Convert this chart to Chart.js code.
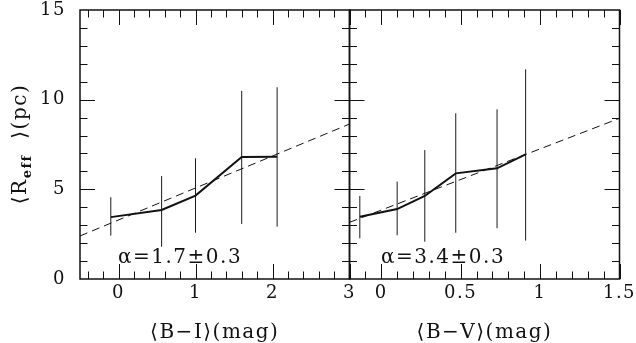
<!DOCTYPE html>
<html><head><meta charset="utf-8">
<script src="https://cdn.jsdelivr.net/npm/chart.js@4.4.1/dist/chart.umd.min.js"></script>
<style>
html,body{margin:0;padding:0;background:#fff;}
#wrap{position:relative;width:636px;height:343px;}
canvas{position:absolute;left:0;top:0;}
</style></head>
<body><div id="wrap"><canvas id="c1" width="636" height="343"></canvas><canvas id="c2" width="636" height="343"></canvas></div>
<script>
// ---- data ----
const biX  = [-0.1, 0.56, 1.0, 1.6, 2.06];
const biY  = [3.45, 3.85, 4.65, 6.8, 6.82];
const biLo = [2.42, 1.8, 2.58, 3.07, 2.92];
const biHi = [4.56, 5.74, 6.73, 10.49, 10.69];
const biFitX = [-0.5, 3.0];
const biFitY = [2.40, 8.64];

const bvX  = [-0.135, 0.1, 0.274, 0.469, 0.729, 0.909];
const bvY  = [3.47, 3.9, 4.63, 5.89, 6.17, 6.95];
const bvLo = [2.27, 2.44, 2.08, 2.58, 2.83, 2.14];
const bvHi = [4.63, 5.43, 7.19, 9.24, 9.46, 11.69];
const bvFitX = [-0.2, 1.5];
const bvFitY = [3.16, 8.96];

const biTicks = [0, 1, 2, 3];
const bvTicks = [0, 0.5, 1, 1.5];
const yTicks  = [0, 5, 10, 15];

const leftLabel  = 'α=1.7±0.3';
const rightLabel = 'α=3.4±0.3';

const SERIF = '"DejaVu Serif", "Liberation Serif", serif';
const INK = '#111';

function makeDatasets(xs, ys, lo, hi, fx, fy){
  const ds = [];
  xs.forEach((x,i)=>{
    ds.push({data:[{x:x,y:lo[i]},{x:x,y:hi[i]}], borderColor:'#1a1a1a', borderWidth:1, pointRadius:0, fill:false});
  });
  ds.push({data: xs.map((x,i)=>({x:x,y:ys[i]})), borderColor:INK, borderWidth:2, pointRadius:0, tension:0, fill:false});
  ds.push({data: fx.map((x,i)=>({x:x,y:fy[i]})), borderColor:INK, borderWidth:1, borderDash:[8,5], pointRadius:0, fill:false});
  return ds;
}

const spacing = {
  id:'spacing',
  beforeDraw(chart){ try { chart.ctx.letterSpacing = '1.5px'; } catch(e){} }
};

function frameTicks(xMin, xMax, xMinorStep, xMajorStep, label, labelX){
  return {
    id:'frameTicks',
    afterDatasetsDraw(chart){
      const {ctx, chartArea:a, scales:{x, y}} = chart;
      ctx.save();
      ctx.strokeStyle = INK;
      ctx.lineWidth = 1;
      ctx.beginPath();
      const startX = Math.ceil(xMin/xMinorStep - 1e-9);
      for(let k=startX; k*xMinorStep <= xMax + 1e-9; k++){
        const v = k*xMinorStep;
        const r = v/xMajorStep;
        const major = Math.abs(r - Math.round(r)) < 1e-6;
        const len = major ? 15 : 7.5;
        const px = Math.round(x.getPixelForValue(v)) + 0.5;
        ctx.moveTo(px, a.bottom); ctx.lineTo(px, a.bottom - len);
        ctx.moveTo(px, a.top); ctx.lineTo(px, a.top + len);
      }
      for(let v=1; v<15; v++){
        const major = v % 5 === 0;
        const len = major ? 15 : 7.5;
        const py = Math.round(y.getPixelForValue(v)) + 0.5;
        ctx.moveTo(a.left, py); ctx.lineTo(a.left + len, py);
        ctx.moveTo(a.right, py); ctx.lineTo(a.right - len, py);
      }
      ctx.stroke();
      ctx.lineWidth = 1.5;
      ctx.strokeRect(a.left, a.top, a.right - a.left, a.bottom - a.top);
      // annotation
      ctx.fillStyle = INK;
      ctx.font = '20px ' + SERIF;
      ctx.textBaseline = 'alphabetic';
      ctx.textAlign = 'left';
      ctx.fillText(label, labelX, 263);
      ctx.restore();
    }
  };
}

const yTitle = {
  id:'yTitle',
  afterDraw(chart){
    const ctx = chart.ctx;
    ctx.save();
    ctx.translate(26, 144);
    ctx.rotate(-Math.PI/2);
    ctx.fillStyle = INK;
    ctx.textBaseline = 'alphabetic';
    const big = '20px ' + SERIF, small = 'bold 13px ' + SERIF;
    const p1 = '⟨R', p2 = 'eff', p3 = '  ⟩(pc)';
    ctx.font = big; const w1 = ctx.measureText(p1).width; const w3 = ctx.measureText(p3).width;
    ctx.font = small; const w2 = ctx.measureText(p2).width;
    let x0 = -(w1 + w2 + w3)/2;
    ctx.font = big; ctx.fillText(p1, x0, 0); x0 += w1;
    ctx.font = small; ctx.fillText(p2, x0, 5); x0 += w2;
    ctx.font = big; ctx.fillText(p3, x0, 0);
    ctx.restore();
  }
};

function setTicks(vals){ return function(scale){ scale.ticks = vals.map(v=>({value:v})); }; }

function baseOptions(xmin, xmax, xticks, title, pad, showY){
  return {
    responsive:false, animation:false,
    layout:{padding:pad},
    plugins:{legend:{display:false}, tooltip:{enabled:false}},
    scales:{
      x:{type:'linear', min:xmin, max:xmax,
        afterBuildTicks:setTicks(xticks),
        afterFit(s){ s.height = 64; s.paddingLeft = 0; s.paddingRight = 0; },
        grid:{display:false, drawTicks:false}, border:{display:false},
        ticks:{color:INK, font:{family:SERIF, size:18}, padding:4, maxRotation:0, autoSkip:false,
          callback:(v)=>String(v)},
        title:{display:true, text:title, color:INK, font:{family:SERIF, size:20}, padding:{top:0,bottom:-2}}
      },
      y:{type:'linear', min:0, max:15, display:showY,
        afterBuildTicks:setTicks(yTicks),
        afterFit(s){ s.width = showY ? 80 : 0; s.paddingTop = 0; s.paddingBottom = 0; },
        grid:{display:false, drawTicks:false}, border:{display:false},
        ticks:{color:INK, font:{family:SERIF, size:18}, padding:14, autoSkip:false}
      }
    }
  };
}

new Chart(document.getElementById('c1'), {
  type:'line',
  data:{datasets: makeDatasets(biX, biY, biLo, biHi, biFitX, biFitY)},
  options: baseOptions(-0.5, 3, biTicks, '⟨B−I⟩(mag)', {top:10, right:636-349.5, left:0, bottom:0}, true),
  plugins:[spacing, frameTicks(-0.5, 3, 0.2, 1, leftLabel, 118), yTitle]
});

new Chart(document.getElementById('c2'), {
  type:'line',
  data:{datasets: makeDatasets(bvX, bvY, bvLo, bvHi, bvFitX, bvFitY)},
  options: baseOptions(-0.2, 1.5, bvTicks, '⟨B−V⟩(mag)', {top:10, right:636-619.5, left:349.5, bottom:0}, false),
  plugins:[spacing, frameTicks(-0.2, 1.5, 0.1, 0.5, rightLabel, 381)]
});
</script>
</body></html>
